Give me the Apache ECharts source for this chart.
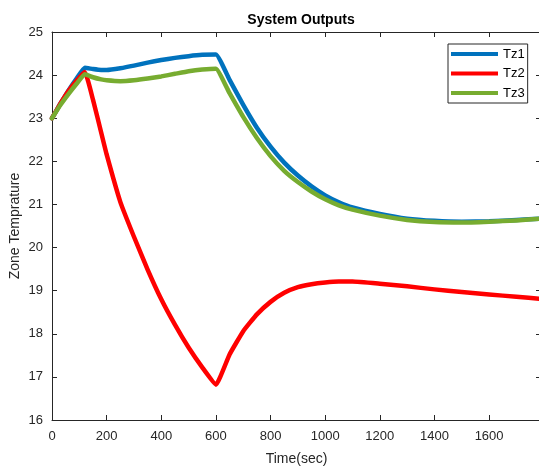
<!DOCTYPE html>
<html>
<head>
<meta charset="utf-8">
<script src="https://cdn.jsdelivr.net/npm/echarts@6/dist/echarts.min.js"></script>
<style>html,body{margin:0;padding:0;background:#fff}#c{width:539px;height:470px}</style>
</head>
<body>
<div id="c"></div>
<script>
const timeSec = [0,30,60,90,120,150,180,200,250,300,350,400,450,500,550,600,650,700,750,800,850,900,950,1000,1050,1100,1200,1300,1400,1500,1600,1700,1790];
const tz1 = [23.0,23.33,23.64,23.92,24.17,24.14,24.12,24.12,24.16,24.22,24.29,24.35,24.40,24.44,24.47,24.48,23.89,23.31,22.78,22.34,21.97,21.67,21.42,21.21,21.05,20.93,20.78,20.67,20.62,20.60,20.61,20.64,20.67];
const tz2 = [23.0,23.33,23.63,23.87,24.07,23.43,22.67,22.16,21.06,20.25,19.49,18.80,18.21,17.68,17.22,16.82,17.52,18.06,18.45,18.74,18.95,19.08,19.15,19.19,19.21,19.21,19.16,19.10,19.03,18.97,18.91,18.86,18.81];
const tz3 = [23.0,23.30,23.56,23.80,24.02,23.95,23.90,23.88,23.86,23.88,23.92,23.97,24.03,24.09,24.13,24.15,23.58,23.03,22.54,22.12,21.78,21.52,21.30,21.12,20.98,20.88,20.74,20.64,20.59,20.58,20.60,20.63,20.67];
const seriesNames = ['Tz1','Tz2','Tz3'];
const seriesColors = ['#0072BD','#FF0000','#77AC30'];
const xTicks = [0,200,400,600,800,1000,1200,1400,1600];
const yTicks = [16,17,18,19,20,21,22,23,24,25];

const chart = echarts.init(document.getElementById('c'));
const axisCol = '#262626';
const font = 'Liberation Sans, Arial, sans-serif';
function pairs(v){ return timeSec.map((t,i)=>[t,v[i]]); }
const baseX = {
  type:'value', min:0, max:1790, interval:200,
  axisLine:{show:true, onZero:false, lineStyle:{color:axisCol,width:1}},
  axisTick:{show:true, inside:true, length:5, lineStyle:{color:axisCol}},
  splitLine:{show:false}
};
const baseY = {
  type:'value', min:16, max:25, interval:1,
  axisLine:{show:true, onZero:false, lineStyle:{color:axisCol,width:1}},
  axisTick:{show:true, inside:true, length:5, lineStyle:{color:axisCol}},
  splitLine:{show:false}
};
chart.setOption({
  animation:false,
  backgroundColor:'#fff',
  title:{text:'System Outputs', left:296, textAlign:'center', top:8,
    textStyle:{fontFamily:font, fontSize:14, fontWeight:'bold', color:'#000'}},
  grid:{left:52, top:32, right:-2, bottom:50, containLabel:false, outerBoundsMode:'none'},
  legend:{
    orient:'vertical', left:448, top:44,
    data:seriesNames,
    icon:'rect', itemWidth:47, itemHeight:4, itemGap:5.5, itemTextGap:4,
    padding:[3,3,3,3],
    borderColor:axisCol, borderWidth:1, backgroundColor:'#fff',
    textStyle:{fontFamily:font, fontSize:13, lineHeight:14, color:'#000'}
  },
  xAxis:[
    Object.assign({}, baseX, {position:'bottom',
      name:'Time(sec)', nameLocation:'middle', nameGap:32, nameMoveOverlap:false,
      nameTextStyle:{fontFamily:font, fontSize:14, color:axisCol},
      axisLabel:{show:true, margin:10, fontFamily:font, fontSize:13, color:axisCol,
        formatter:v=> xTicks.indexOf(v)>=0 ? String(v) : ''}}),
    Object.assign({}, baseX, {position:'top', axisLabel:{show:false}})
  ],
  yAxis:[
    Object.assign({}, baseY, {position:'left',
      name:'Zone Temprature', nameLocation:'middle', nameGap:30, nameMoveOverlap:false,
      nameTextStyle:{fontFamily:font, fontSize:14, color:axisCol},
      axisLabel:{show:true, margin:9, fontFamily:font, fontSize:13, color:axisCol,
        formatter:v=> yTicks.indexOf(v)>=0 ? String(v) : ''}}),
    Object.assign({}, baseY, {position:'right', axisLabel:{show:false}})
  ],
  series:[tz1,tz2,tz3].map((d,i)=>({
    name:seriesNames[i], type:'line', data:pairs(d), showSymbol:false, symbol:'none',
    smooth:0.12, color:seriesColors[i],
    lineStyle:{width:4.5, color:seriesColors[i], join:'round', cap:'round'},
    itemStyle:{color:seriesColors[i]}
  }))
});
</script>
</body>
</html>
